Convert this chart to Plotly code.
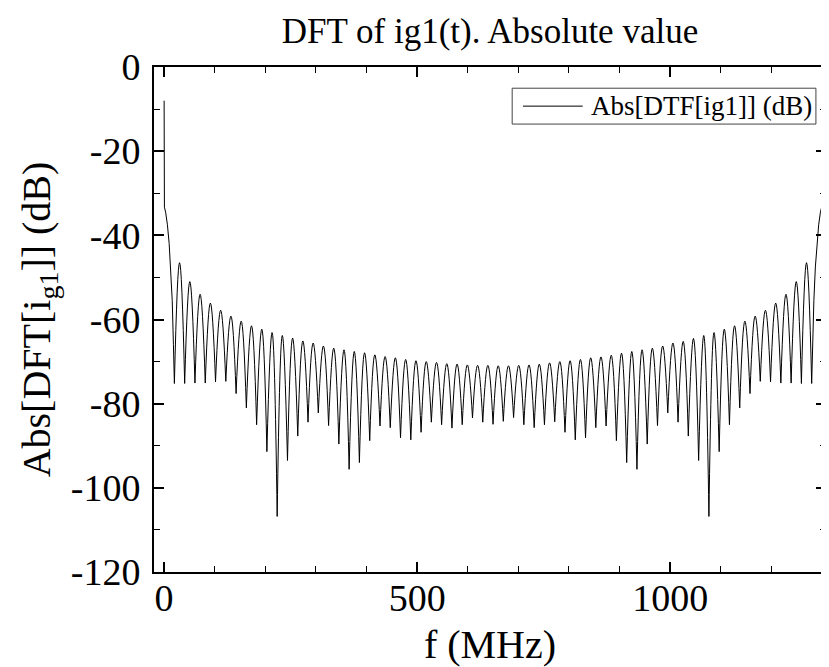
import plotly.graph_objects as go

# DFT of ig1(t), |X(f)| in dB
# nulls between side lobes (MHz, dB)
null_f = [20.3, 40.6, 60.9, 81.3, 101.6, 121.9, 142.2, 162.5, 182.8, 203.1,
          223.4, 243.8, 264.1, 284.4, 304.7, 325.0, 345.3, 365.6, 385.9, 406.3,
          426.6, 446.9, 467.2, 487.5, 507.8, 528.1, 548.4, 568.8, 589.1, 609.4,
          629.7, 650.0, 670.3, 690.6, 710.9, 731.3, 751.6, 771.9, 792.2, 812.5,
          832.8, 853.1, 873.4, 893.8, 914.1, 934.4, 954.7, 975.0, 995.3, 1015.6,
          1035.9, 1056.3, 1076.6, 1096.9, 1117.2, 1137.5, 1157.8, 1178.1, 1198.4, 1218.8,
          1239.1, 1259.4, 1279.7]
null_db = [-75.2, -75.2, -75.1, -75.1, -74.8, -74.7, -77.6, -81.0, -85.0, -91.4,
           -106.8, -93.5, -87.7, -84.4, -82.2, -85.2, -89.6, -95.6, -94.0, -88.8,
           -85.3, -85.7, -88.1, -88.6, -86.8, -84.4, -85.0, -85.8, -85.0, -83.4,
           -84.4, -84.9, -84.2, -83.3, -85.0, -85.7, -85.0, -84.3, -86.8, -88.6,
           -88.1, -85.7, -85.3, -88.8, -94.0, -95.6, -89.6, -85.2, -82.2, -84.4,
           -87.7, -93.5, -106.8, -91.4, -85.0, -81.0, -77.6, -74.7, -74.8, -75.1,
           -75.1, -75.2, -75.2]

# side lobe maxima (MHz, dB)
peak_f = [30.5, 50.8, 71.1, 91.4, 111.7, 132.0, 152.3, 172.7, 193.0, 213.3,
          233.6, 253.9, 274.2, 294.5, 314.8, 335.2, 355.5, 375.8, 396.1, 416.4,
          436.7, 457.0, 477.3, 497.7, 518.0, 538.3, 558.6, 578.9, 599.2, 619.5,
          639.8, 660.2, 680.5, 700.8, 721.1, 741.4, 761.7, 782.0, 802.3, 822.7,
          843.0, 863.3, 883.6, 903.9, 924.2, 944.5, 964.8, 985.2, 1005.5, 1025.8,
          1046.1, 1066.4, 1086.7, 1107.0, 1127.3, 1147.7, 1168.0, 1188.3, 1208.6, 1228.9,
          1249.2, 1269.5]
peak_db = [-46.5, -51.0, -54.0, -56.1, -57.8, -59.2, -60.4, -61.5, -62.3, -63.1,
           -63.8, -64.4, -65.1, -65.6, -66.3, -66.8, -67.2, -67.6, -67.9, -68.4,
           -68.8, -69.1, -69.5, -69.8, -70.0, -70.2, -70.5, -70.6, -70.8, -70.9,
           -70.9, -71.0, -71.0, -70.9, -70.8, -70.6, -70.3, -70.0, -69.8, -69.5,
           -69.1, -68.9, -68.5, -68.0, -67.6, -67.2, -66.8, -66.3, -65.6, -65.2,
           -64.5, -63.8, -63.1, -62.3, -61.5, -60.4, -59.2, -57.8, -56.1, -54.0,
           -51.0, -46.5]

# main lobe edges at f = 0 and near f = 1300
edge_lo_f = [0, 0.6, 3, 6.5, 10, 13, 16, 18.4, 20.3]
edge_lo_db = [-8.0, -33.3, -34.5, -37.5, -42.0, -47.5, -55.5, -66.0, -75.2]
edge_hi_f = [1279.7, 1281.6, 1284, 1287, 1290, 1293.5, 1297, 1299.4]
edge_hi_db = [-75.2, -66.0, -55.5, -47.5, -42.0, -37.5, -34.5, -33.3]

x_ticks = [0, 500, 1000]
y_ticks = [0, -20, -40, -60, -80, -100, -120]
y_labels = ["0", "-20", "-40", "-60", "-80", "-100", "-120"]

FONT = "Liberation Serif, Times New Roman, serif"

# the page body adds an 8 px margin, so the figure is 8 px smaller each way
W, H = 821, 659

# one arch per side lobe: null -> peak -> null
lobe_x, lobe_y = [], []
for i in range(len(peak_f)):
    lobe_x += [null_f[i], peak_f[i], null_f[i + 1], None]
    lobe_y += [null_db[i], peak_db[i], null_db[i + 1], None]

fig = go.Figure()
fig.add_trace(go.Scatter(x=lobe_x, y=lobe_y, mode="lines", connectgaps=False,
                         line=dict(color="black", width=1, shape="spline", smoothing=1.3),
                         showlegend=False, hoverinfo="skip"))
fig.add_trace(go.Scatter(x=edge_lo_f + [None] + edge_hi_f, y=edge_lo_db + [None] + edge_hi_db,
                         mode="lines", connectgaps=False,
                         line=dict(color="black", width=1), showlegend=False))

axis_style = dict(showline=True, linewidth=2, linecolor="black", mirror="allticks",
                  ticks="inside", ticklen=10, tickwidth=1.5, tickcolor="black",
                  showgrid=False, zeroline=False, automargin=False,
                  tickfont=dict(family=FONT, size=38, color="black"))

fig.update_xaxes(range=[-20, 1308], tickvals=x_ticks,
                 minor=dict(dtick=100, tick0=0, ticks="inside", ticklen=6, tickwidth=1, tickcolor="black"),
                 title=dict(text="f (MHz)", font=dict(family=FONT, size=40, color="black"), standoff=20),
                 ticklabelstandoff=-9, **axis_style)
fig.update_yaxes(range=[-120, 0], tickvals=y_ticks, ticktext=y_labels,
                 minor=dict(dtick=10, tick0=0, ticks="inside", ticklen=6, tickwidth=1, tickcolor="black"),
                 title=dict(text="Abs[DFT[i<sub>g1</sub>]] (dB)", font=dict(family=FONT, size=40, color="black"),
                            standoff=8),
                 ticklabelstandoff=4, **axis_style)

# legend box drawn by hand so the sample line matches the original length
fig.add_shape(type="rect", xref="paper", yref="paper", x0=0.533, x1=0.985, y0=0.887, y1=0.958,
              line=dict(color="#444", width=1), fillcolor="white")
fig.add_shape(type="line", xref="paper", yref="paper", x0=0.549, x1=0.638, y0=0.9225, y1=0.9225,
              line=dict(color="black", width=1))
fig.add_annotation(xref="paper", yref="paper", x=0.648, y=0.9225, xanchor="left", yanchor="middle",
                   text="Abs[DTF[ig1]] (dB)", showarrow=False,
                   font=dict(family=FONT, size=27, color="black"))

fig.update_layout(
    width=W, height=H,
    margin=dict(l=146, r=3, t=59, b=95, autoexpand=False),
    plot_bgcolor="white", paper_bgcolor="white",
    title=dict(text="DFT of ig1(t). Absolute value", x=0.5, xref="paper",
               y=1 - 23 / H, yref="container", yanchor="middle",
               font=dict(family=FONT, size=35, color="black")),
)

fig.write_html("out.html")
